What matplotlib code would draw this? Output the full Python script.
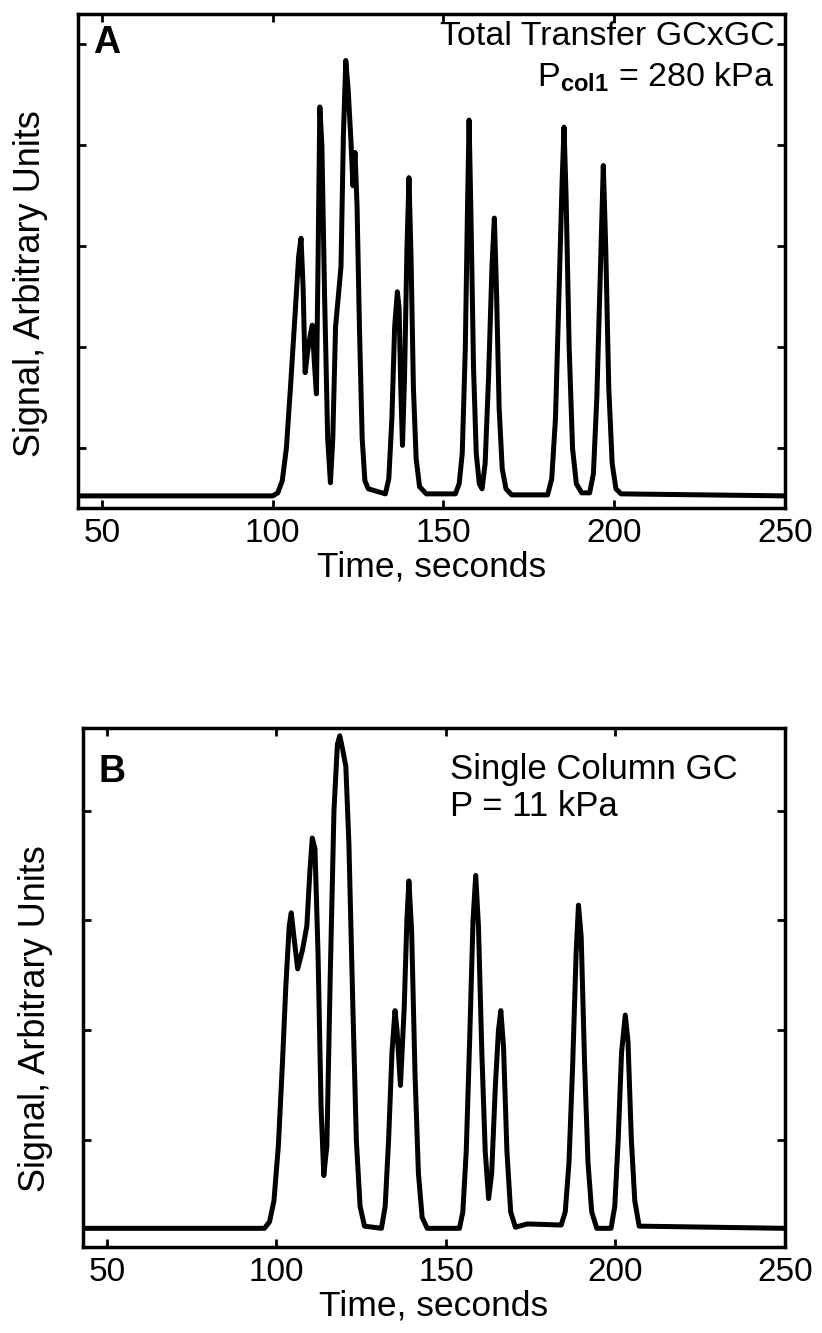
import matplotlib
matplotlib.use("Agg")
import matplotlib.pyplot as plt

plt.rcParams['font.family'] = ['Liberation Sans', 'DejaVu Sans']
plt.rcParams['mathtext.fontset'] = 'custom'
plt.rcParams['mathtext.rm'] = 'Liberation Sans'
plt.rcParams['mathtext.bf'] = 'Liberation Sans:bold'

# ---- panel A : total transfer GCxGC (time in s, signal arbitrary) ----
time_a = [43, 100, 101.5, 102.8, 104, 105.2, 106.5, 107.6, 108.3, 108.9, 109.5,
          110.2, 111.0, 111.6, 112.2, 112.8, 113.3, 113.8, 114.4, 115.2, 116.1,
          116.9, 117.6, 118.4, 119.2, 120.0, 120.7, 121.4, 122.1, 122.9, 123.5,
          124.1, 124.7, 125.4, 126.2, 127.0, 128.0, 130.0, 133.0, 134.0, 134.9,
          135.7, 136.5, 137.0, 137.5, 138.0, 138.6, 139.3, 139.9, 140.5, 141.2,
          142.0, 143.0, 145.0, 153.5, 154.6, 155.5, 156.4, 157.0, 157.5, 158.0,
          158.8, 159.6, 160.5, 161.3, 162.2, 163.2, 164.2, 164.9, 165.5, 166.3,
          167.2, 168.3, 170, 180.5, 181.7, 182.8, 183.8, 184.7, 185.3, 185.9,
          186.8, 187.8, 188.9, 190.5, 192.8, 193.9, 194.9, 195.9, 196.8, 197.5,
          198.4, 199.4, 200.5, 202.0, 250]
sig_a = [0.53, 0.53, 0.56, 0.68, 1.0, 1.6, 2.3, 2.9, 3.08, 2.6, 1.75,
         1.95, 2.12, 2.22, 1.85, 1.54, 2.9, 4.38, 4.0, 2.5, 1.1,
         0.66, 1.1, 2.2, 2.5, 2.8, 4.1, 4.84, 4.55, 4.05, 3.6,
         3.93, 3.4, 2.2, 1.1, 0.68, 0.6, 0.58, 0.55, 0.7, 1.3,
         2.2, 2.55, 2.4, 1.6, 1.03, 1.7, 2.96, 3.68, 2.9, 1.6,
         0.9, 0.62, 0.55, 0.55, 0.65, 0.95, 2.0, 3.3, 4.25, 3.4,
         1.8, 0.95, 0.65, 0.6, 0.85, 1.7, 2.8, 3.28, 2.6, 1.4,
         0.8, 0.6, 0.54, 0.54, 0.7, 1.3, 2.5, 3.6, 4.18, 3.5,
         2.0, 1.0, 0.65, 0.56, 0.56, 0.75, 1.5, 2.7, 3.80, 3.0,
         1.6, 0.85, 0.6, 0.55, 0.53]

# ---- panel B : single column GC ----
time_b = [43, 96.5, 98.0, 99.3, 100.6, 101.8, 102.8, 103.8, 104.4, 105.3, 106.3,
          107.7, 109.0, 109.9, 110.6, 111.4, 112.3, 113.2, 114.0, 114.9, 115.9,
          117.0, 118.0, 118.7, 119.6, 120.5, 121.4, 122.5, 123.6, 124.7, 126.0,
          131.0, 132.1, 133.1, 134.1, 135.0, 135.6, 136.6, 137.7, 138.5, 139.1,
          139.9, 140.9, 141.9, 143.0, 144.5, 154.0, 155.0, 156.0, 157.0, 158.0,
          158.8, 159.6, 160.6, 161.6, 162.6, 163.5, 164.6, 165.5, 166.2, 167.0,
          168.0, 169.1, 170.5, 174.0, 184.0, 185.2, 186.3, 187.4, 188.4, 189.1,
          189.9, 190.9, 191.9, 193.0, 194.5, 198.7, 199.8, 200.8, 201.8, 202.9,
          203.7, 204.7, 205.7, 207.0, 250]
sig_b = [0.20, 0.20, 0.26, 0.45, 0.95, 1.7, 2.4, 2.95, 3.07, 2.82, 2.56,
         2.73, 2.95, 3.45, 3.75, 3.65, 2.7, 1.3, 0.68, 0.95, 2.5,
         4.0, 4.6, 4.68, 4.55, 4.40, 3.7, 2.3, 1.0, 0.4, 0.22,
         0.20, 0.4, 1.0, 1.8, 2.18, 2.0, 1.5, 2.2, 3.0, 3.36,
         2.9, 1.6, 0.7, 0.3, 0.20, 0.20, 0.35, 0.9, 1.9, 3.0,
         3.41, 2.95, 1.8, 0.9, 0.47, 0.7, 1.5, 2.0, 2.18, 1.85,
         0.9, 0.35, 0.21, 0.24, 0.23, 0.35, 0.8, 1.7, 2.7, 3.14,
         2.85, 1.7, 0.8, 0.35, 0.20, 0.20, 0.4, 1.0, 1.8, 2.14,
         1.9, 1.0, 0.45, 0.22, 0.20]

x_ticks = [50, 100, 150, 200, 250]

fig = plt.figure(figsize=(8.22, 13.33), dpi=100)
ax1 = fig.add_axes([0.0949, 0.6189, 0.8601, 0.3706])
ax2 = fig.add_axes([0.101, 0.0645, 0.854, 0.3893])

def style(ax, yticks, ylim, ylab_y):
    ax.set_xlim(43, 250)
    ax.set_ylim(*ylim)
    ax.set_xticks(x_ticks)
    ax.set_yticks(yticks)
    ax.set_yticklabels([])
    ax.tick_params(direction='in', top=True, right=True, length=6, width=2,
                   labelsize=24, pad=7)
    for s in ax.spines.values():
        s.set_linewidth(2.5)
    ax.set_xlabel('Time, seconds', fontsize=25.5, labelpad=1)
    ax.set_ylabel('Signal, Arbitrary Units', fontsize=26)
    ax.yaxis.set_label_coords(-0.043, ylab_y)

ax1.plot(time_a, sig_a, color='black', lw=3.6, solid_joinstyle='round')
style(ax1, [1, 2, 3, 4, 5], (0.41, 5.3), 0.455)
ax1.text(0.022, 0.942, 'A', transform=ax1.transAxes, fontsize=27,
         fontweight='bold', va='center', ha='left')
ax1.text(0.985, 0.955, 'Total Transfer GCxGC', transform=ax1.transAxes,
         fontsize=24.5, va='center', ha='right')
ax1.text(0.985, 0.873, r'P$_{\mathbf{col1}}$ = 280 kPa', transform=ax1.transAxes,
         fontsize=24.5, va='center', ha='right')

ax2.plot(time_b, sig_b, color='black', lw=3.6, solid_joinstyle='round')
style(ax2, [1, 2, 3, 4], (0.03, 4.75), 0.44)
ax2.text(0.022, 0.916, 'B', transform=ax2.transAxes, fontsize=27,
         fontweight='bold', va='center', ha='left')
ax2.text(0.523, 0.92, 'Single Column GC', transform=ax2.transAxes,
         fontsize=25, va='center', ha='left')
ax2.text(0.523, 0.848, 'P = 11 kPa', transform=ax2.transAxes,
         fontsize=25, va='center', ha='left')

fig.savefig('out.png', dpi=100)
